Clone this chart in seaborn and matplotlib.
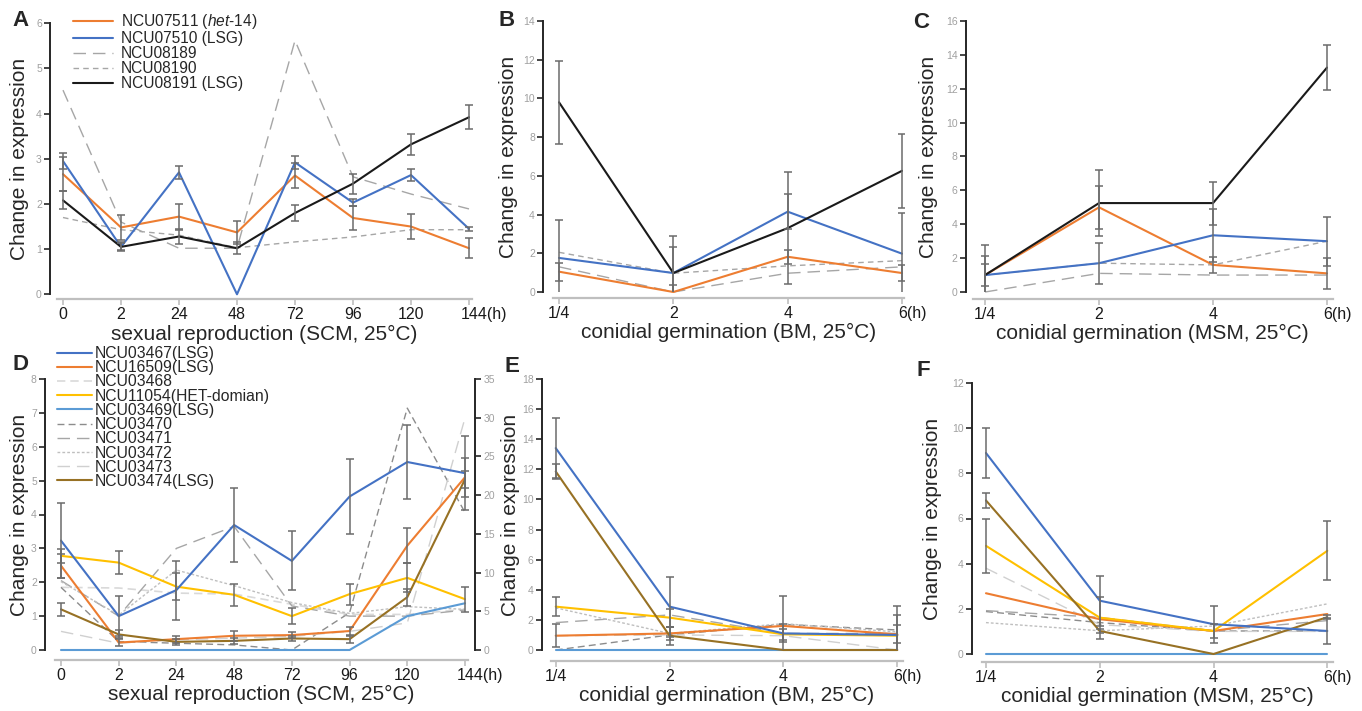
import numpy as np
import matplotlib.pyplot as plt
import seaborn as sns
from matplotlib.transforms import ScaledTranslation

sns.set_style("ticks")
plt.rcParams['font.family'] = ['Liberation Sans', 'DejaVu Sans']
plt.rcParams['mathtext.fontset'] = 'custom'
plt.rcParams['mathtext.it'] = 'Liberation Sans:italic'
plt.rcParams['mathtext.rm'] = 'Liberation Sans'

# ---------------- data ----------------
sex_hours = ["0", "2", "24", "48", "72", "96", "120", "144(h)"]
germ_hours = ["1/4", "2", "4", "6(h)"]

# panel A (sexual reproduction, SCM)
a_07511 = [2.66, 1.48, 1.72, 1.37, 2.63, 1.69, 1.50, 1.02]
a_07511_err = [0.38, 0.28, 0.29, 0.25, 0.27, 0.27, 0.28, 0.22]
a_07510 = [2.95, 1.05, 2.70, 0.00, 2.92, 2.03, 2.64, 1.45]
a_07510_err = [0.18, 0.08, 0.15, np.nan, 0.15, 0.07, 0.14, 0.05]
a_08189 = [4.52, 1.60, 1.02, 1.02, 5.62, 2.60, 2.22, 1.89]
a_08190 = [1.70, 1.43, 1.31, 1.03, 1.16, 1.27, 1.43, 1.43]
a_08191 = [2.08, 1.05, 1.28, 1.02, 1.80, 2.45, 3.32, 3.92]
a_08191_err = [0.20, 0.10, 0.17, 0.13, 0.18, 0.22, 0.23, 0.27]

# panel B (conidial germination, BM)
b_07511 = [1.05, 0.00, 1.82, 0.98]
b_07511_err = [0.47, 0.36, 0.36, 0.40]
b_07510 = [1.76, 0.98, 4.15, 1.98]
b_07510_err = [1.95, 1.34, 0.91, 2.08]
b_08189 = [1.30, 0.00, 0.97, 1.30]
b_08190 = [2.05, 0.97, 1.35, 1.62]
b_08191 = [9.80, 0.98, 3.30, 6.26]
b_08191_err = [2.13, 1.92, 2.90, 1.90]

# panel C (conidial germination, MSM)
c_07511 = [1.00, 5.00, 1.60, 1.10]
c_07511_err = [1.15, 1.27, 0.45, 0.90]
c_07510 = [1.00, 1.70, 3.35, 3.00]
c_07510_err = [0.65, 1.20, 1.55, 1.45]
c_08189 = [0.00, 1.10, 1.00, 1.00]
c_08190 = [1.00, 1.70, 1.60, 3.00]
c_08191 = [1.00, 5.25, 5.25, 13.25]
c_08191_err = [1.80, 1.95, 1.27, 1.35]

# panel D (sexual reproduction, SCM)
d_03467 = [3.23, 1.00, 1.77, 3.69, 2.63, 4.53, 5.55, 5.22]
d_03467_err = [1.10, 0.60, 0.87, 1.10, 0.87, 1.10, 1.10, 1.10]
d_16509 = [2.49, 0.22, 0.32, 0.42, 0.44, 0.56, 3.08, 5.10]
d_16509_err = [0.35, 0.10, 0.10, 0.15, 0.10, 0.12, 0.52, 0.57]
d_03468 = [1.85, 1.83, 1.68, 1.65, 1.35, 1.05, 1.05, 1.20]
d_11054 = [2.78, 2.58, 1.87, 1.63, 1.00, 1.65, 2.13, 1.50]
d_11054_err = [0.20, 0.35, 0.40, 0.32, 0.24, 0.31, 0.43, 0.37]
d_03469 = [0.00, 0.00, 0.00, 0.00, 0.00, 0.00, 1.00, 1.38]
d_03470 = [1.85, 0.25, 0.20, 0.15, 0.00, 1.10, 7.14, 4.06]
d_03471 = [2.05, 1.00, 3.00, 3.65, 1.30, 1.00, 1.00, 1.18]
d_03472 = [2.02, 1.03, 2.36, 1.90, 1.40, 1.08, 1.28, 1.20]
d_03473 = [0.55, 0.20, 0.30, 0.35, 0.40, 0.55, 0.80, 6.85]
d_03474 = [1.20, 0.46, 0.24, 0.27, 0.34, 0.32, 1.56, 5.04]
d_03474_err = [0.20, 0.12, 0.08, 0.08, 0.08, 0.10, 0.25, 0.25]

# panel E (conidial germination, BM)
e_03467 = [13.41, 2.88, 1.10, 1.00]
e_03467_err = [2.00, 2.00, 0.60, 1.95]
e_16509 = [0.95, 1.10, 1.60, 1.04]
e_16509_err = [0.78, 0.45, 2.00, 0.60]
e_03468 = [0.00, 0.00, 0.00, 0.00]
e_11054 = [2.88, 2.15, 1.04, 0.95]
e_11054_err = [0.62, 0.60, 0.35, 1.35]
e_03469 = [0.00, 0.00, 0.00, 0.00]
e_03470 = [0.00, 1.00, 1.70, 1.33]
e_03471 = [1.82, 2.33, 1.10, 1.10]
e_03472 = [2.80, 1.10, 1.75, 1.20]
e_03473 = [0.95, 1.00, 0.95, 0.00]
e_03474 = [11.86, 0.95, 0.00, 0.00]
e_03474_err = [0.50, 0.60, np.nan, np.nan]

# panel F (conidial germination, MSM)
f_03467 = [8.90, 2.36, 1.32, 1.02]
f_03467_err = [1.12, 1.10, 0.82, 0.58]
f_16509 = [2.69, 1.54, 1.02, 1.77]
f_03468 = [0.00, 0.00, 0.00, 0.00]
f_11054 = [4.79, 1.61, 1.02, 4.57]
f_11054_err = [1.20, 0.93, 0.32, 1.30]
f_03469 = [0.00, 0.00, 0.00, 0.00]
f_03470 = [1.88, 1.39, 1.02, 1.02]
f_03471 = [1.92, 1.62, 1.03, 1.48]
f_03472 = [1.39, 1.03, 1.24, 2.22]
f_03473 = [3.80, 1.30, 1.00, 1.00]
f_03474 = [6.80, 1.02, 0.00, 1.63]
f_03474_err = [0.33, 0.08, np.nan, 0.10]

# ---------------- styles ----------------
ORANGE, BLUE, BLACK = "#ED7D31", "#4472C4", "#1a1a1a"
YELLOW, LBLUE, BROWN = "#FFC000", "#5B9BD5", "#977124"
ERRC = "#6b6b6b"

W, H = 1362, 711
fig = plt.figure(figsize=(W / 100, H / 100), dpi=100)


def make_axes(l, r, t, b):
    return fig.add_axes([l / W, 1 - b / H, (r - l) / W, (b - t) / H])


def line(ax, y, color, lw=1.5, ls='-', label=None):
    x = np.arange(len(y))
    sns.lineplot(x=x, y=y, ax=ax, color=color, linewidth=lw, linestyle=ls,
                 label=label, legend=False, zorder=3, clip_on=False)
    return ax.lines[-1]


def err(ax, y, e):
    ax.errorbar(np.arange(len(y)), y, yerr=e, fmt='none', ecolor=ERRC,
                elinewidth=1.1, capsize=2.8, capthick=1.1, zorder=6)


def style(ax, labels, ymax, ystep, xlim, loff, boff, xlabel, ylab_x, last_shift):
    ax.set_xlim(*xlim)
    ax.set_ylim(0, ymax)
    ax.set_yticks(np.arange(0, ymax + 0.01, ystep))
    ax.set_xticks(range(len(labels)))
    ax.set_xticklabels(labels)
    ax.spines[['top', 'right']].set_visible(False)
    ax.spines['left'].set_position(('outward', loff * 0.72))
    ax.spines['bottom'].set_position(('outward', boff * 0.72))
    ax.spines['left'].set_color('#262626')
    ax.spines['left'].set_linewidth(1.4)
    ax.spines['bottom'].set_color('#bfbfbf')
    ax.spines['bottom'].set_linewidth(1.6)
    ax.tick_params(axis='y', length=4, width=1.2, color='#262626',
                   labelsize=7.5, labelcolor='#a0a0a0', pad=2)
    ax.tick_params(axis='x', length=4, width=1.2, color='#bfbfbf',
                   labelsize=11.5, labelcolor='#1a1a1a', pad=1.5)
    ax.set_xlabel(xlabel, fontsize=15, labelpad=2)
    ax.set_ylabel('Change in expression', fontsize=15, va='center')
    bb = ax.get_position()
    ax.yaxis.set_label_coords(ylab_x / W, bb.y0 + bb.height / 2,
                              transform=fig.transFigure)
    lab = ax.get_xticklabels()[-1]
    lab.set_horizontalalignment('left')
    lab.set_transform(lab.get_transform() +
                      ScaledTranslation(-last_shift / 100, 0, fig.dpi_scale_trans))


LONG = (0, (9, 5))
SHORT = (0, (4, 3))
MED = (0, (5, 3))
DOT = (0, (2, 1.5))

# ---------- A ----------
axA = make_axes(57.2, 471.9, 23.3, 294.3)
hA = {}
hA['g1'] = line(axA, a_08189, '#a6a6a6', 1.0, LONG, 'NCU08189')
hA['g2'] = line(axA, a_08190, '#a6a6a6', 1.0, SHORT, 'NCU08190')
hA['o'] = line(axA, a_07511, ORANGE, label='NCU07511 ($\\mathit{het}$-14)')
hA['b'] = line(axA, a_07510, BLUE, label='NCU07510 (LSG)')
hA['k'] = line(axA, a_08191, BLACK, label='NCU08191 (LSG)')
err(axA, a_07511, a_07511_err)
err(axA, a_07510, a_07510_err)
err(axA, a_08191, a_08191_err)
style(axA, sex_hours, 6, 1, (-0.1, 7.05), 7, 5,
      'sexual reproduction (SCM, 25°C)', 20, 8)
order = ['o', 'b', 'g1', 'g2', 'k']
axA.legend([hA[k] for k in order], [hA[k].get_label() for k in order],
           loc='upper left', bbox_to_anchor=(73 / W, 1 - 12 / H),
           bbox_transform=fig.transFigure, frameon=False, borderpad=0,
           borderaxespad=0, handlelength=2.6, handletextpad=0.5,
           labelspacing=0.0, fontsize=11.2)

# ---------- B ----------
axB = make_axes(553.3, 904.3, 21, 292)
line(axB, b_08189, '#a6a6a6', 1.0, LONG)
line(axB, b_08190, '#a6a6a6', 1.0, SHORT)
line(axB, b_07511, ORANGE)
line(axB, b_07510, BLUE)
line(axB, b_08191, BLACK)
err(axB, b_07511, b_07511_err)
err(axB, b_07510, b_07510_err)
err(axB, b_08191, b_08191_err)
style(axB, germ_hours, 14, 2, (-0.05, 3.02), 10, 6,
      'conidial germination (BM, 25°C)', 508, 4)

# ---------- C ----------
axC = make_axes(972.5, 1332.7, 21, 292)
line(axC, c_08189, '#a6a6a6', 1.0, LONG)
line(axC, c_08190, '#a6a6a6', 1.0, SHORT)
line(axC, c_07511, ORANGE)
line(axC, c_07510, BLUE)
line(axC, c_08191, BLACK)
err(axC, c_07511, c_07511_err)
err(axC, c_07510, c_07510_err)
err(axC, c_08191, c_08191_err)
style(axC, germ_hours, 16, 2, (-0.11, 3.05), 6.5, 7,
      'conidial germination (MSM, 25°C)', 928, 4)


def panel_lsg(ax, s):
    h = {}
    h['03468'] = line(ax, s['03468'], '#d9d9d9', 1.2, MED, 'NCU03468')
    h['03470'] = line(ax, s['03470'], '#8c8c8c', 1.0, MED, 'NCU03470')
    h['03471'] = line(ax, s['03471'], '#a6a6a6', 1.0, LONG, 'NCU03471')
    h['03472'] = line(ax, s['03472'], '#bfbfbf', 1.0, DOT, 'NCU03472')
    h['03473'] = line(ax, s['03473'], '#d0d0d0', 1.0, LONG, 'NCU03473')
    h['03469'] = line(ax, s['03469'], LBLUE, label='NCU03469(LSG)')
    h['16509'] = line(ax, s['16509'], ORANGE, label='NCU16509(LSG)')
    h['11054'] = line(ax, s['11054'], YELLOW, label='NCU11054(HET-domian)')
    h['03474'] = line(ax, s['03474'], BROWN, label='NCU03474(LSG)')
    h['03467'] = line(ax, s['03467'], BLUE, label='NCU03467(LSG)')
    return h


# ---------- D ----------
axD = make_axes(55.2, 467.9, 379, 650)
hD = panel_lsg(axD, {'03467': d_03467, '16509': d_16509, '03468': d_03468,
                     '11054': d_11054, '03469': d_03469, '03470': d_03470,
                     '03471': d_03471, '03472': d_03472, '03473': d_03473,
                     '03474': d_03474})
err(axD, d_03467, d_03467_err)
err(axD, d_16509, d_16509_err)
err(axD, d_11054, d_11054_err)
err(axD, d_03474, d_03474_err)
style(axD, sex_hours, 8, 1, (-0.1, 7.05), 10, 10,
      'sexual reproduction (SCM, 25°C)', 20, 8)
orderD = ['03467', '16509', '03468', '11054', '03469', '03470', '03471',
          '03472', '03473', '03474']
axD.legend([hD[k] for k in orderD], [hD[k].get_label() for k in orderD],
           loc='upper left', bbox_to_anchor=(57 / W, 1 - 346 / H),
           bbox_transform=fig.transFigure, frameon=False, borderpad=0,
           borderaxespad=0, handlelength=2.2, handletextpad=0.2,
           labelspacing=-0.05, fontsize=11.3)
axD2 = axD.twinx()
axD2.set_ylim(0, 35)
axD2.set_yticks(np.arange(0, 36, 5))
axD2.spines[['top', 'left', 'bottom']].set_visible(False)
axD2.spines['right'].set_position(('outward', 7 * 0.72))
axD2.spines['right'].set_color('#262626')
axD2.spines['right'].set_linewidth(1.4)
axD2.tick_params(axis='y', length=4, width=1.2, color='#262626',
                 labelsize=7.5, labelcolor='#a0a0a0', pad=2)

# ---------- E ----------
axE = make_axes(550.6, 903, 379, 650)
panel_lsg(axE, {'03467': e_03467, '16509': e_16509, '03468': e_03468,
                '11054': e_11054, '03469': e_03469, '03470': e_03470,
                '03471': e_03471, '03472': e_03472, '03473': e_03473,
                '03474': e_03474})
err(axE, e_03467, e_03467_err)
err(axE, e_16509, e_16509_err)
err(axE, e_11054, e_11054_err)
err(axE, e_03474, e_03474_err)
style(axE, germ_hours, 18, 2, (-0.045, 3.05), 8.6, 11,
      'conidial germination (BM, 25°C)', 510, 4)

# ---------- F ----------
axF = make_axes(982, 1333, 383, 654)
panel_lsg(axF, {'03467': f_03467, '16509': f_16509, '03468': f_03468,
                '11054': f_11054, '03469': f_03469, '03470': f_03470,
                '03471': f_03471, '03472': f_03472, '03473': f_03473,
                '03474': f_03474})
err(axF, f_03467, f_03467_err)
err(axF, f_11054, f_11054_err)
err(axF, f_03474, f_03474_err)
style(axF, germ_hours, 12, 2, (-0.035, 3.05), 10, 8,
      'conidial germination (MSM, 25°C)', 932, 4)

# panel letters
for letter, px, py in [('A', 12, 20), ('B', 499, 20), ('C', 913, 22),
                       ('D', 12, 365), ('E', 504, 366), ('F', 917, 370)]:
    fig.text(px / W, 1 - py / H, letter, fontsize=16, fontweight='bold',
             va='center', ha='left')

fig.savefig('out.png', dpi=100)
